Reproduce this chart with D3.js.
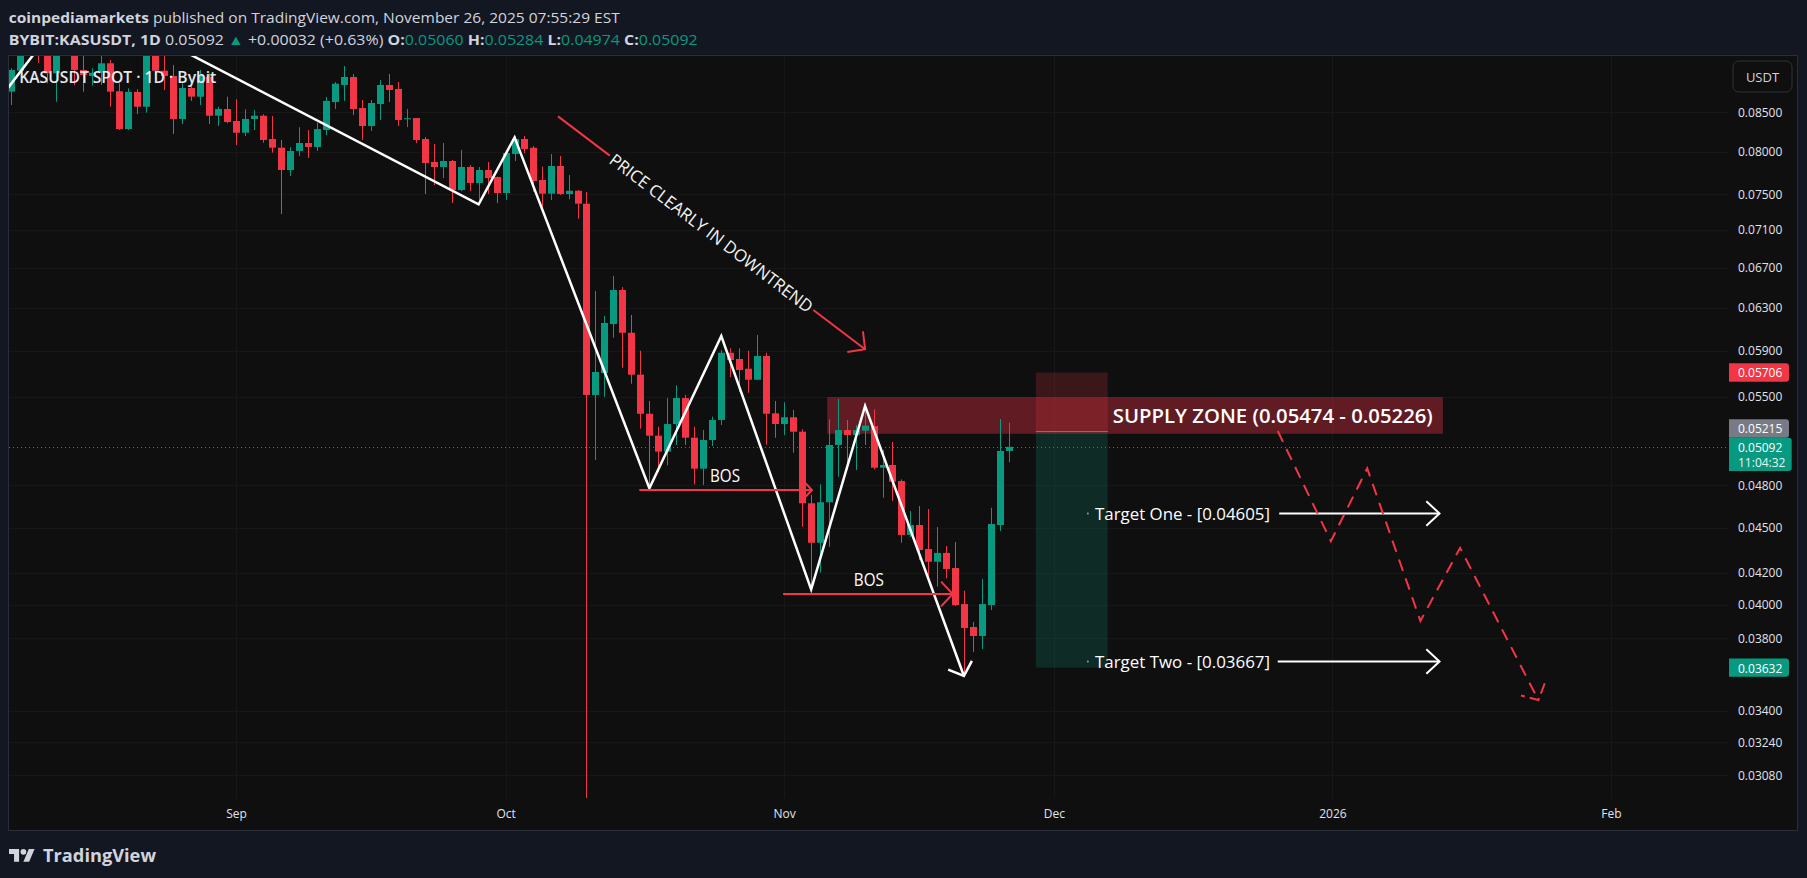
<!DOCTYPE html>
<html><head><meta charset="utf-8">
<script src="https://cdn.jsdelivr.net/npm/d3@7"></script>
<style>
html,body{margin:0;padding:0;background:#131722;overflow:hidden;}
svg{display:block;}
text{font-family:"Open Sans","Noto Sans",sans-serif;}
</style></head><body>
<svg id="chart" width="1807" height="878"></svg>
<script>
// ---------------- DATA ----------------
const firstCandle = "2025-08-07"; // daily candles, one per day
const opens = [0.0877,0.09056,0.09419,0.09565,0.09347,0.0902,0.09376,0.09463,0.09066,0.08983,0.09028,0.09159,0.08775,0.08282,0.08766,0.0857,0.09347,0.09056,0.08983,0.08411,0.08819,0.08703,0.08973,0.08453,0.0854,
0.08385,0.08236,0.08411,0.08453,0.08157,0.08049,0.07779,0.08009,0.08107,0.08058,0.0827,0.08632,0.0886,0.08969,0.08553,0.08321,0.08606,0.0886,0.08806,0.08407,0.08423,0.08157,0.07875,0.07815,0.07887,0.07544,0.07815,0.07626,0.07779,0.07696,0.0751,0.07972,0.08157,0.08049,0.07661,0.07502,0.07827,0.07498,0.07536,0.07388,
0.05513,0.05701,0.06145,0.06474,0.06064,0.05687,0.05357,0.0518,0.05055,0.05273,0.05487,0.05164,0.04925,0.05146,0.05306,0.05881,0.05825,0.05739,0.05643,0.05852,0.0536,0.05273,0.05328,0.05212,0.04671,0.04397,0.04678,0.05107,0.05225,0.05185,0.0522,0.05257,0.04932,0.04953,0.04833,0.0445,0.04518,0.04355,0.04271,0.04329,0.0423,0.04003,0.03865,0.03812,0.03997,0.04518,0.0506];
const highs = [0.0909,0.09492,0.0962,0.09668,0.09492,0.09434,0.0955,0.0955,0.09262,0.0909,0.09262,0.09206,0.08883,0.08815,0.08801,0.09419,0.09419,0.09262,0.09135,0.08883,0.0886,0.09066,0.0902,0.0857,0.08703,
0.08668,0.08536,0.08527,0.08471,0.08449,0.08145,0.08054,0.08305,0.0827,0.08363,0.08699,0.08901,0.09121,0.0901,0.08659,0.08659,0.08928,0.0901,0.08901,0.0854,0.08423,0.08182,0.08095,0.08107,0.07899,0.08021,0.07839,0.07815,0.07875,0.077,0.0799,0.08194,0.08194,0.0807,0.07819,0.07972,0.07948,0.0772,0.07544,0.07521,
0.06464,0.06221,0.06614,0.06503,0.06231,0.05899,0.05462,0.05252,0.05487,0.05595,0.05513,0.05252,0.05225,0.05333,0.05906,0.05921,0.05921,0.05899,0.06043,0.05881,0.05462,0.05451,0.05388,0.05231,0.0473,0.04808,0.05311,0.05479,0.05306,0.05265,0.05443,0.05393,0.05068,0.0513,0.04845,0.04616,0.04651,0.0463,0.04504,0.04375,0.04402,0.04086,0.03895,0.0416,0.04639,0.05314,0.05284];
const lows = [0.08593,0.09038,0.09295,0.09167,0.08883,0.08636,0.09305,0.0886,0.0877,0.08851,0.0886,0.0857,0.0827,0.0827,0.08475,0.08492,0.08997,0.08792,0.0822,0.08346,0.08646,0.08593,0.08346,0.08321,0.08355,
0.08082,0.08194,0.0827,0.08111,0.07988,0.07272,0.07708,0.07948,0.07923,0.08009,0.08207,0.0854,0.08646,0.08462,0.08145,0.08258,0.08398,0.08632,0.08321,0.08308,0.08107,0.07498,0.07602,0.07684,0.07396,0.0753,0.07533,0.0743,0.07498,0.07396,0.0743,0.07887,0.07984,0.07525,0.07325,0.0743,0.07487,0.07438,0.0722,0.029,
0.04991,0.05498,0.06018,0.05748,0.05609,0.05236,0.04779,0.04898,0.0495,0.05107,0.05107,0.04808,0.04803,0.05099,0.05265,0.05664,0.0554,0.05532,0.05641,0.05109,0.05164,0.05185,0.05047,0.04506,0.04101,0.042,0.0437,0.04865,0.04953,0.04915,0.05107,0.0492,0.04711,0.04689,0.04397,0.04436,0.04282,0.04164,0.04111,0.04164,0.03991,0.03582,0.03721,0.03737,0.03967,0.04477,0.04974];
const closes = [0.09066,0.09419,0.09565,0.09347,0.0902,0.09376,0.09463,0.09066,0.08997,0.09028,0.09159,0.0877,0.08282,0.08766,0.0857,0.09347,0.09056,0.08983,0.08411,0.08819,0.08703,0.08997,0.08453,0.0854,0.08372,
0.08236,0.08411,0.08453,0.08145,0.08049,0.07779,0.08009,0.08107,0.08058,0.08282,0.08646,0.08878,0.08969,0.0854,0.08321,0.08619,0.0886,0.08792,0.08398,0.0842,0.08145,0.07863,0.07815,0.07887,0.07544,0.07815,0.07626,0.07779,0.07684,0.0751,0.07984,0.08157,0.08033,0.07649,0.07502,0.07827,0.07498,0.07536,0.07388,0.05513,
0.0571,0.06155,0.06474,0.06064,0.05687,0.05357,0.0518,0.05055,0.05273,0.05487,0.05164,0.04925,0.05146,0.05306,0.05881,0.05816,0.05728,0.05643,0.05852,0.05357,0.05273,0.05328,0.05212,0.04671,0.04397,0.04678,0.05107,0.05225,0.05185,0.05225,0.0526,0.04932,0.04953,0.04828,0.0445,0.04518,0.04348,0.04271,0.04329,0.04224,0.03997,0.03859,0.03812,0.04003,0.04525,0.0506,0.05092];

const priceTicks = [0.085,0.08,0.075,0.071,0.067,0.063,0.059,0.055,0.048,0.045,0.042,0.04,0.038,0.034,0.0324,0.0308];
const monthTicks = ["2025-09-01","2025-10-01","2025-11-01","2025-12-01","2026-01-01","2026-02-01"];
const monthLabels = ["Sep","Oct","Nov","Dec","2026","Feb"];

// annotation drawings (date, price)
const zigzagDates = ["2025-08-05","2025-08-14T10:00","2025-09-28","2025-10-02","2025-10-17","2025-10-25","2025-11-04","2025-11-10","2025-11-21"];
const zigzagPrices = [0.08564,0.1015,0.0738,0.08177,0.04779,0.06034,0.04094,0.05421,0.03586];
const bosStart = ["2025-10-15T21:00","2025-10-31T21:00"];
const bosEnd = ["2025-11-04T02:00","2025-11-19T18:00"];
const bosPrice = [0.0477,0.04067];
const bosLabelDate = ["2025-10-25T10:00","2025-11-10T10:00"];
const bosLabelPrice = [0.0488,0.0416];
const trendArrowDates = ["2025-10-06T20:00","2025-11-10T00:00"];
const trendArrowPrices = [0.08445,0.05913];
const trendText = "PRICE CLEARLY IN DOWNTREND";
const zoneDates = ["2025-11-05T19:00","2026-01-13T07:00"];
const zonePrices = [0.05495,0.05195];
const zoneLabel = "SUPPLY ZONE (0.05474 - 0.05226)";
const zoneLabelDate = "2025-12-07T13:30";
const positionDates = ["2025-11-29","2025-12-07"];
const positionStop = 0.05706, positionEntry = 0.05215, positionTarget = 0.03632;
const targetLabels = ["Target One - [0.04605]","Target Two - [0.03667]"];
const targetPrices = [0.04605,0.03667];
const targetDotDate = "2025-12-04T19:00", targetTextDate = "2025-12-05T14:00";
const targetArrowStart = ["2025-12-26T02:00","2025-12-25T22:00"];
const targetArrowEnd = "2026-01-12T22:00";
const projDates = ["2025-12-25T22:00","2025-12-31T20:00","2026-01-04T21:00","2026-01-10T19:00","2026-01-15T05:00","2026-01-23T22:00"];
const projPrices = [0.05217,0.04408,0.04927,0.03901,0.04363,0.03456];
const lastPrice = 0.05092;

// ---------------- SETUP ----------------
const T = s => new Date(s.length === 10 ? s + "T00:00:00Z" : s + ":00Z");
const RED = "#f23645", GREEN = "#089981", TXT = "#d1d4dc";
const svg = d3.select("#chart");
const W = 1807, H = 878;
const PL = 9, PR = 1729, PT = 56, PB = 798;

const x = d3.scaleUtc().domain([T("2025-09-01"), T("2026-02-01")]).range([236, 1611]);
const y = d3.scaleLog().domain([0.02975, 0.09262]).range([PB, PT]);

const t0 = T(firstCandle).getTime();
const candles = opens.map((o, i) => ({date: new Date(t0 + i * 864e5), o, h: highs[i], l: lows[i], c: closes[i]}));

svg.append("rect").attr("width", W).attr("height", H).attr("fill", "#131722");
svg.append("rect").attr("x", 8.5).attr("y", 55.5).attr("width", 1789).attr("height", 775)
  .attr("fill", "#0f0f0f").attr("stroke", "#2a2e39");

svg.append("defs").append("clipPath").attr("id", "plot")
  .append("rect").attr("x", PL).attr("y", PT).attr("width", PR - PL).attr("height", PB - PT);

// grid
const grid = svg.append("g").attr("clip-path", "url(#plot)");
grid.selectAll(".hg").data(priceTicks).join("line")
  .attr("x1", PL).attr("x2", PR).attr("y1", d => Math.round(y(d)) + 0.5).attr("y2", d => Math.round(y(d)) + 0.5)
  .attr("stroke", "#171717");
grid.selectAll(".vg").data(monthTicks).join("line")
  .attr("y1", PT).attr("y2", PB).attr("x1", d => Math.round(x(T(d))) + 0.5).attr("x2", d => Math.round(x(T(d))) + 0.5)
  .attr("stroke", "#171717");

const plot = svg.append("g").attr("clip-path", "url(#plot)");

// short position tool
const px1 = x(T(positionDates[0])), px2 = x(T(positionDates[1]));
plot.append("rect").attr("x", px1).attr("width", px2 - px1)
  .attr("y", y(positionStop)).attr("height", y(positionEntry) - y(positionStop))
  .attr("fill", RED).attr("fill-opacity", 0.2);
plot.append("rect").attr("x", px1).attr("width", px2 - px1)
  .attr("y", y(positionEntry)).attr("height", y(positionTarget) - y(positionEntry))
  .attr("fill", GREEN).attr("fill-opacity", 0.2);
plot.append("line").attr("x1", px1).attr("x2", px2)
  .attr("y1", Math.round(y(positionEntry)) + 0.5).attr("y2", Math.round(y(positionEntry)) + 0.5)
  .attr("stroke", "#787b86");

// supply zone
plot.append("rect").attr("x", x(T(zoneDates[0]))).attr("width", x(T(zoneDates[1])) - x(T(zoneDates[0])))
  .attr("y", y(zonePrices[0])).attr("height", y(zonePrices[1]) - y(zonePrices[0]))
  .attr("fill", "#f23645").attr("fill-opacity", 0.36);

// current price dotted line
plot.append("line").attr("x1", PL).attr("x2", PR)
  .attr("y1", Math.round(y(lastPrice)) + 0.5).attr("y2", Math.round(y(lastPrice)) + 0.5)
  .attr("stroke", GREEN).attr("stroke-dasharray", "1,3");

// candles
const cg = plot.append("g");
candles.forEach(d => {
  const cx = Math.round(x(d.date));
  const col = d.c >= d.o ? GREEN : RED;
  cg.append("line").attr("x1", cx + 0.5).attr("x2", cx + 0.5).attr("y1", y(d.h)).attr("y2", y(d.l))
    .attr("stroke", col).attr("stroke-width", 1);
  const top = y(Math.max(d.o, d.c)), bot = y(Math.min(d.o, d.c));
  cg.append("rect").attr("x", cx - 3).attr("width", 7).attr("y", top).attr("height", Math.max(1, bot - top))
    .attr("fill", col);
});

// arrow head helper (screen space, built from scaled points)
function head(g, p1, p2, len, ang, color, w, dash) {
  const dx = p2[0] - p1[0], dy = p2[1] - p1[1], L = Math.hypot(dx, dy);
  const ux = -dx / L, uy = -dy / L, a = ang * Math.PI / 180;
  const w1 = [p2[0] + len * (ux * Math.cos(a) - uy * Math.sin(a)), p2[1] + len * (ux * Math.sin(a) + uy * Math.cos(a))];
  const w2 = [p2[0] + len * (ux * Math.cos(-a) - uy * Math.sin(-a)), p2[1] + len * (ux * Math.sin(-a) + uy * Math.cos(-a))];
  const p = g.append("path").attr("d", d3.line()([w1, p2, w2])).attr("fill", "none")
    .attr("stroke", color).attr("stroke-width", w).attr("stroke-linejoin", "miter");
  if (dash) p.attr("stroke-dasharray", dash);
}

// zigzag
const zz = zigzagDates.map((d, i) => [x(T(d)), y(zigzagPrices[i])]);
plot.append("path").attr("d", d3.line()(zz)).attr("fill", "none").attr("stroke", "#ffffff")
  .attr("stroke-width", 2.5).attr("stroke-linejoin", "miter").attr("stroke-miterlimit", 20);
head(plot, zz[zz.length - 2], zz[zz.length - 1], 17, 48, "#ffffff", 2.5);

// BOS lines
bosPrice.forEach((p, i) => {
  const a = [x(T(bosStart[i])), Math.round(y(p))], b = [x(T(bosEnd[i])), Math.round(y(p))];
  plot.append("line").attr("x1", a[0]).attr("x2", b[0]).attr("y1", a[1]).attr("y2", b[1])
    .attr("stroke", RED).attr("stroke-width", 2);
  head(plot, a, b, 17, 47, RED, 2);
  svg.append("text").attr("x", x(T(bosLabelDate[i]))).attr("y", y(bosLabelPrice[i]))
    .attr("text-anchor", "middle").attr("dominant-baseline", "central")
    .attr("font-size", 18).attr("font-weight", 500).attr("fill", "#ffffff").attr("textLength", 30).attr("lengthAdjust", "spacingAndGlyphs")
    .text("BOS");
});

// downtrend arrow with text
const ta = [x(T(trendArrowDates[0])), y(trendArrowPrices[0])], tb = [x(T(trendArrowDates[1])), y(trendArrowPrices[1])];
const lerp = t => [ta[0] + (tb[0] - ta[0]) * t, ta[1] + (tb[1] - ta[1]) * t];
plot.append("path").attr("d", d3.line()([ta, lerp(0.1686)])).attr("stroke", RED).attr("stroke-width", 2).attr("fill", "none");
plot.append("path").attr("d", d3.line()([lerp(0.8314), tb])).attr("stroke", RED).attr("stroke-width", 2).attr("fill", "none");
head(plot, ta, tb, 18, 46, RED, 2);
const mid = lerp(0.5), ang = Math.atan2(tb[1] - ta[1], tb[0] - ta[0]) * 180 / Math.PI;
svg.append("text").attr("transform", `translate(${mid[0]},${mid[1]}) rotate(${ang})`)
  .attr("text-anchor", "middle").attr("dominant-baseline", "central")
  .attr("font-size", 17).attr("font-weight", 500).attr("fill", "#f2f2f2").attr("textLength", 250).attr("lengthAdjust", "spacingAndGlyphs")
  .text(trendText);

// supply zone label
svg.append("text").attr("x", x(T(zoneLabelDate))).attr("y", (y(zonePrices[0]) + y(zonePrices[1])) / 2)
  .attr("dominant-baseline", "central").attr("font-size", 20).attr("font-weight", 600)
  .attr("fill", "#ffffff").attr("textLength", 320).attr("lengthAdjust", "spacingAndGlyphs").text(zoneLabel);

// targets
targetPrices.forEach((p, i) => {
  const yy = Math.round(y(p)) + 0.5;
  svg.append("circle").attr("cx", x(T(targetDotDate))).attr("cy", yy).attr("r", 1).attr("fill", "#9598a1");
  svg.append("text").attr("x", x(T(targetTextDate))).attr("y", yy).attr("dominant-baseline", "central")
    .attr("font-size", 17).attr("font-weight", 500).attr("fill", "#ffffff").attr("textLength", 175).attr("lengthAdjust", "spacingAndGlyphs")
    .text(targetLabels[i]);
  const a = [x(T(targetArrowStart[i])), yy], b = [x(T(targetArrowEnd)), yy];
  plot.append("line").attr("x1", a[0]).attr("x2", b[0]).attr("y1", yy).attr("y2", yy).attr("stroke", "#ffffff").attr("stroke-width", 2);
  head(plot, a, b, 18, 43, "#ffffff", 2);
});

// dashed projection
const pr = projDates.map((d, i) => [x(T(d)), y(projPrices[i])]);
plot.append("path").attr("d", d3.line()(pr)).attr("fill", "none").attr("stroke", RED)
  .attr("stroke-width", 2).attr("stroke-dasharray", "12,8");
head(plot, pr[pr.length - 2], pr[pr.length - 1], 18, 48, RED, 2, "11,5");

// ---------------- AXES ----------------
const yAxis = d3.axisRight(y).tickValues(priceTicks).tickFormat(d3.format(".5f")).tickSize(0).tickPadding(0);
svg.append("g").attr("transform", "translate(1738,0)").call(yAxis)
  .call(g => g.select(".domain").remove())
  .call(g => g.selectAll("text").attr("x", 0).attr("dy", "0.35em").attr("fill", "#e0e3eb")
    .attr("font-size", 12).attr("font-family", "'Open Sans','Noto Sans',sans-serif"));

const xAxis = d3.axisBottom(x).tickValues(monthTicks.map(T)).tickFormat((d, i) => monthLabels[i]).tickSize(0).tickPadding(0);
svg.append("g").attr("transform", "translate(0,814)").call(xAxis)
  .call(g => g.select(".domain").remove())
  .call(g => g.selectAll("text").attr("y", 0).attr("dy", "0.35em").attr("fill", "#e0e3eb")
    .attr("font-size", 12).attr("font-family", "'Open Sans','Noto Sans',sans-serif"));

// price labels on the scale
function priceTag(price, cy, fill, extra) {
  const h = extra ? 33.4 : 18.4;
  const w = extra ? 62.7 : 60;
  const top = cy - 9.2;
  svg.append("path").attr("d", `M1729,${top}h${w - 3}q3,0 3,3v${h - 6}q0,3 -3,3h${-(w - 3)}z`).attr("fill", fill);
  svg.append("text").attr("x", 1738).attr("y", cy + 0.5).attr("dominant-baseline", "central")
    .attr("font-size", 12).attr("fill", "#ffffff").text(d3.format(".5f")(price));
  if (extra) svg.append("text").attr("x", 1738).attr("y", cy + 15.5).attr("dominant-baseline", "central")
    .attr("font-size", 12).attr("fill", "#e8f5f2").text(extra);
}
const curY = y(lastPrice);
priceTag(positionStop, y(positionStop), RED);
priceTag(positionEntry, Math.min(y(positionEntry), curY - 9.2 - 9.2), "#787b86");
priceTag(lastPrice, curY, GREEN, "11:04:32");
priceTag(positionTarget, y(positionTarget), GREEN);

// USDT button
svg.append("rect").attr("x", 1733).attr("y", 61).attr("width", 59).attr("height", 31).attr("rx", 6)
  .attr("fill", "#0f0f0f").attr("stroke", "#2f323c");
svg.append("text").attr("x", 1762.5).attr("y", 76.7).attr("text-anchor", "middle").attr("dominant-baseline", "central")
  .attr("font-size", 13).attr("fill", TXT).text("USDT");

// legend in plot
svg.append("text").attr("x", 19.3).attr("y", 76.7).attr("dominant-baseline", "central")
  .attr("font-size", 16).attr("font-weight", 600).attr("fill", "#e6e8ee")
  .attr("textLength", 197).attr("lengthAdjust", "spacingAndGlyphs").text("KASUSDT SPOT · 1D · Bybit");

// ---------------- HEADER ----------------
const h1 = svg.append("text").attr("x", 8.7).attr("y", 16.7).attr("dominant-baseline", "central")
  .attr("font-size", 14).attr("fill", TXT).attr("textLength", 611).attr("lengthAdjust", "spacingAndGlyphs");
h1.append("tspan").attr("font-weight", 700).text("coinpediamarkets");
h1.append("tspan").text(" published on TradingView.com, November 26, 2025 07:55:29 EST");

const h2 = svg.append("text").attr("x", 8.7).attr("y", 39.3).attr("dominant-baseline", "central")
  .attr("font-size", 14).attr("fill", TXT).attr("textLength", 689).attr("lengthAdjust", "spacingAndGlyphs");
h2.append("tspan").attr("font-weight", 700).text("BYBIT:KASUSDT, 1D");
h2.append("tspan").text("  0.05092 ");
h2.append("tspan").attr("fill", GREEN).text("▲");
h2.append("tspan").text(" +0.00032 (+0.63%) ");
[["O:", "0.05060"], ["H:", "0.05284"], ["L:", "0.04974"], ["C:", "0.05092"]].forEach(([k, v], i) => {
  h2.append("tspan").attr("font-weight", 700).text(" " + k);
  h2.append("tspan").attr("fill", GREEN).text(v);
});

// ---------------- WATERMARK ----------------
const logo = svg.append("g").attr("transform", "translate(9,846) scale(0.72)").attr("fill", "#d1d4dc");
logo.append("path").attr("d", "M14 22H7V11H0V4h14v18z");
logo.append("circle").attr("cx", 20).attr("cy", 8).attr("r", 4);
logo.append("path").attr("d", "M28 22h-8l7.5-18h8z");
svg.append("text").attr("x", 43).attr("y", 855).attr("dominant-baseline", "central")
  .attr("font-size", 18).attr("font-weight", 700).attr("fill", "#d1d4dc")
  .attr("textLength", 113).attr("lengthAdjust", "spacingAndGlyphs").text("TradingView");
</script>
</body></html>
